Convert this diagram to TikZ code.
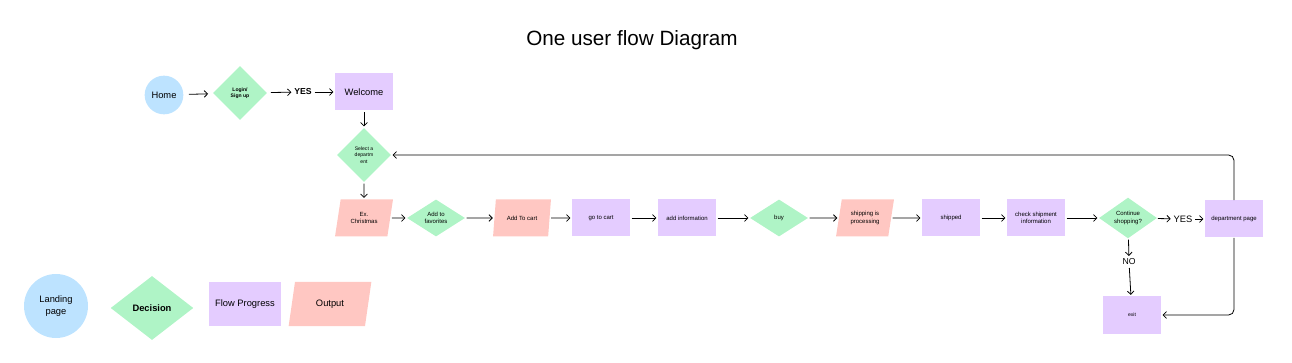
\documentclass[tikz,border=0pt]{standalone}
\usepackage{fontspec}
\setmainfont{Liberation Sans}
\usetikzlibrary{arrows.meta,shapes.geometric}
\definecolor{fblue}{HTML}{BDE3FF}
\definecolor{fgreen}{HTML}{AFF4C6}
\definecolor{fpurple}{HTML}{E4CCFF}
\definecolor{fpink}{HTML}{FFC7C2}
\newcommand{\smallfs}{\fontsize{4.5}{5.6}\selectfont}
\newcommand{\tinyfs}{\fontsize{3.8}{4.8}\selectfont}
\newcommand{\legfs}{\fontsize{7}{8.5}\selectfont}
\tikzset{
  flow/.style={fill=fpurple,minimum width=43.5pt,minimum height=27.75pt,align=center,font=\smallfs,inner sep=1pt},
  dec/.style={diamond,fill=fgreen,minimum width=43.5pt,minimum height=27.75pt,inner sep=0pt,align=center,font=\smallfs},
  outp/.style={trapezium,trapezium left angle=76,trapezium right angle=104,trapezium stretches=true,fill=fpink,minimum width=43.5pt,minimum height=27.75pt,inner sep=1pt,align=center,font=\smallfs},
  land/.style={circle,fill=fblue,inner sep=0pt,align=center,font=\legfs},
  arr/.style={-{Straight Barb[length=2.5pt,width=5pt]},line width=0.6pt,shorten <=1pt,shorten >=1pt},
  lbl/.style={font=\fontsize{6.5}{7}\selectfont,inner sep=1pt},
}
\begin{document}
\begin{tikzpicture}[x=0.75pt,y=-0.75pt]
  \useasboundingbox (0,0) rectangle (1292,363);
  \node[font=\fontsize{15.5}{17}\selectfont] (title) at (632,40) {One user flow Diagram};
  % top row
  \node[land,minimum size=29pt] (home) at (164,95) {Home};
  \node[dec,minimum width=40.5pt,minimum height=40.5pt,font=\tinyfs\bfseries] (login) at (240,93) {Login/\\Sign up};
  \node[lbl,font=\bfseries\fontsize{6.5}{7}\selectfont] (yes1) at (303,92) {YES};
  \node[flow,font=\legfs] (welcome) at (364,92) {Welcome};
  \node[dec,minimum width=40.5pt,minimum height=40.5pt,font=\tinyfs] (seldep) at (364,155) {Select a\\departm\\ent};
  \draw[arr,shorten <=4pt,shorten >=4pt] (home) -- (login);
  \draw[arr,shorten <=3pt] (login) -- (yes1);
  \draw[arr] (yes1) -- (welcome);
  \draw[arr] (welcome) -- (seldep);
  % main row
  \foreach \n/\s/\x/\t in {xmas/outp/364/{Ex.\\Christmas},fav/dec/436/{Add to\\favorites},
      addcart/outp/522/{Add To cart},gocart/flow/601/{go to cart},addinfo/flow/687/{add information},
      buy/dec/779/{buy},shipproc/outp/865/{shipping is\\processing},shipped/flow/951/{shipped},
      checkship/flow/1036/{check shipment\\information},cont/dec/1128/{Continue\\shopping?}}
    \node[\s] (\n) at (\x,218) {\t};
  \foreach \a/\b in {xmas/fav,fav/addcart,addcart/gocart,gocart/addinfo,addinfo/buy,
      buy/shipproc,shipproc/shipped,shipped/checkship,checkship/cont}
    \draw[arr] (\a) -- (\b);
  \draw[arr] (seldep) -- (xmas);
  \node[lbl,font=\legfs] (yes2) at (1183,219) {YES};
  \node[flow] (deppage) at (1234,219) {department page};
  \node[lbl] (no) at (1129,262) {NO};
  \node[flow,font=\tinyfs] (exit) at (1132,315) {exit};
  \draw[arr] (cont) -- (yes2);
  \draw[arr] (yes2) -- (deppage);
  \draw[arr] (cont) -- (no);
  \draw[arr] (no) -- (exit);
  \draw[arr,rounded corners=4pt,shorten <=0pt] (deppage.north) |- (seldep.east);
  \draw[arr,rounded corners=4pt,shorten <=0pt] (deppage.south) |- (exit.east);
  % legend
  \node[land,minimum size=48pt] (lgland) at (56,306) {Landing\\page};
  \node[dec,minimum width=62pt,minimum height=48pt,font=\bfseries\legfs] (lgdec) at (152,308) {Decision};
  \node[flow,minimum width=54pt,minimum height=33pt,font=\legfs] (lgflow) at (245,304) {Flow Progress};
  \node[outp,minimum width=62pt,minimum height=33pt,font=\legfs] (lgout) at (330,304) {Output};
\end{tikzpicture}
\end{document}
